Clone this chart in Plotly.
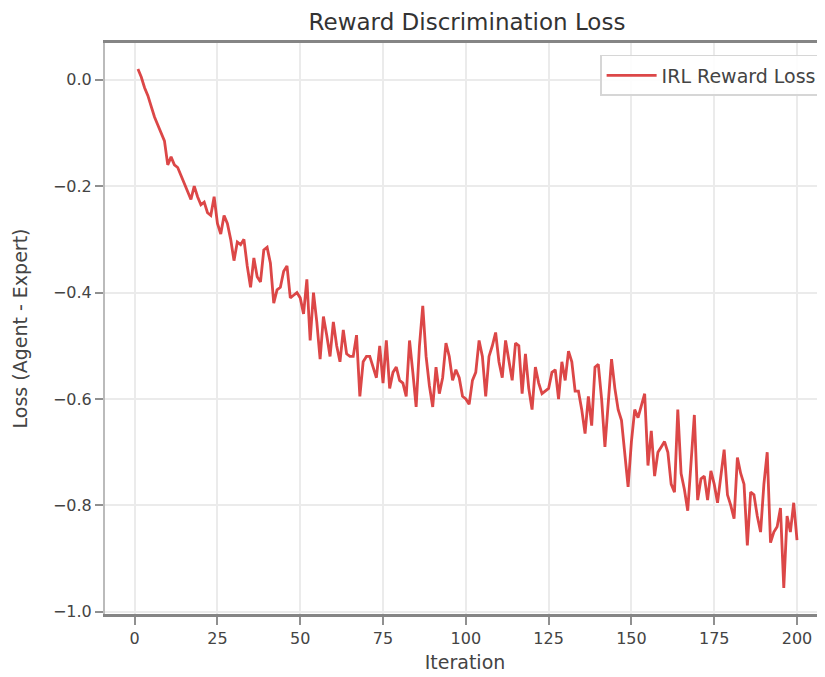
import plotly.graph_objects as go

iterations = list(range(1, 201))
irl_reward_loss = [
    0.02, 0.005, -0.015, -0.03, -0.05, -0.07, -0.085, -0.10, -0.115, -0.16,
    -0.145, -0.16, -0.165, -0.18, -0.195, -0.21, -0.225, -0.20, -0.22, -0.235,
    -0.23, -0.25, -0.255, -0.22, -0.27, -0.29, -0.255, -0.27, -0.30, -0.34,
    -0.305, -0.31, -0.30, -0.35, -0.39, -0.335, -0.37, -0.38, -0.32, -0.315,
    -0.345, -0.42, -0.395, -0.39, -0.36, -0.35, -0.41, -0.405, -0.40, -0.41,
    -0.44, -0.375, -0.49, -0.40, -0.455, -0.525, -0.445, -0.48, -0.52, -0.455,
    -0.50, -0.53, -0.47, -0.515, -0.52, -0.52, -0.48, -0.595, -0.53, -0.52,
    -0.52, -0.54, -0.56, -0.50, -0.57, -0.49, -0.58, -0.55, -0.54, -0.565,
    -0.57, -0.595, -0.49, -0.55, -0.615, -0.50, -0.425, -0.52, -0.575, -0.615,
    -0.54, -0.59, -0.56, -0.495, -0.52, -0.565, -0.545, -0.56, -0.595, -0.60,
    -0.61, -0.565, -0.55, -0.49, -0.52, -0.595, -0.52, -0.50, -0.475, -0.53,
    -0.56, -0.49, -0.53, -0.565, -0.495, -0.50, -0.59, -0.515, -0.58, -0.62,
    -0.54, -0.57, -0.59, -0.585, -0.58, -0.55, -0.545, -0.60, -0.53, -0.565,
    -0.51, -0.53, -0.585, -0.585, -0.62, -0.665, -0.595, -0.65, -0.54, -0.535,
    -0.60, -0.69, -0.60, -0.525, -0.58, -0.62, -0.64, -0.70, -0.765, -0.68,
    -0.62, -0.635, -0.61, -0.59, -0.725, -0.66, -0.745, -0.70, -0.69, -0.68,
    -0.70, -0.76, -0.775, -0.62, -0.74, -0.77, -0.81, -0.72, -0.63, -0.79,
    -0.75, -0.745, -0.79, -0.735, -0.76, -0.795, -0.75, -0.695, -0.78, -0.80,
    -0.825, -0.71, -0.74, -0.76, -0.875, -0.775, -0.78, -0.82, -0.85, -0.76,
    -0.70, -0.87, -0.85, -0.84, -0.805, -0.955, -0.82, -0.85, -0.795, -0.865,
]
x_ticks = [0, 25, 50, 75, 100, 125, 150, 175, 200]
y_ticks = [0.0, -0.2, -0.4, -0.6, -0.8, -1.0]
y_tick_text = ["0.0", "−0.2", "−0.4", "−0.6", "−0.8", "−1.0"]

font_family = "DejaVu Sans, Liberation Sans, sans-serif"

# The page body keeps its default 8px margin, so the figure is sized to fit the window.
W, H = 817, 669

fig = go.Figure()
fig.add_trace(go.Scatter(
    x=iterations, y=irl_reward_loss, mode="lines", name="IRL Reward Loss",
    line=dict(color="#d62728", width=2.8), opacity=0.85,
))

fig.update_layout(
    width=W, height=H,
    margin=dict(l=97, r=0, t=35, b=63, autoexpand=False),
    paper_bgcolor="white", plot_bgcolor="white",
    font=dict(family=font_family, size=16, color="#444"),
    title=dict(text="Reward Discrimination Loss", xref="container", x=459 / W,
               xanchor="center", yref="container", y=1 - 14 / H, yanchor="middle",
               font=dict(size=23, color="#333", family=font_family)),
    showlegend=True,
    legend=dict(x=0.996, y=0.979, xanchor="right", yanchor="top",
                bgcolor="rgba(255,255,255,0.9)", bordercolor="#d6d6d6", borderwidth=1.5,
                itemwidth=50,
                font=dict(size=19, color="#444")),
)
fig.update_xaxes(
    range=[-8.95, 208.45], tickvals=x_ticks, ticktext=[str(v) for v in x_ticks],
    showgrid=True, gridcolor="#ebebeb", gridwidth=1.5, zeroline=False,
    showline=True, linecolor="#858585", linewidth=3, mirror=True,
    ticks="outside", ticklen=8, tickcolor="#909090", tickwidth=1.5,
    automargin=False,
    title=dict(text="Iteration", font=dict(size=19, color="#444"), standoff=9),
    tickfont=dict(size=16, color="#444"),
)
fig.update_yaxes(
    range=[-1.004, 0.069], tickvals=y_ticks, ticktext=y_tick_text,
    showgrid=True, gridcolor="#ebebeb", gridwidth=1.5, zeroline=False,
    showline=True, linecolor="#bbbbbb", linewidth=2,
    ticks="outside", ticklen=8, tickcolor="#909090", tickwidth=1.5,
    automargin=False,
    title=dict(text="Loss (Agent - Expert)", font=dict(size=19, color="#444"), standoff=20),
    tickfont=dict(size=16, color="#444"),
)

fig.write_html("out.html")
